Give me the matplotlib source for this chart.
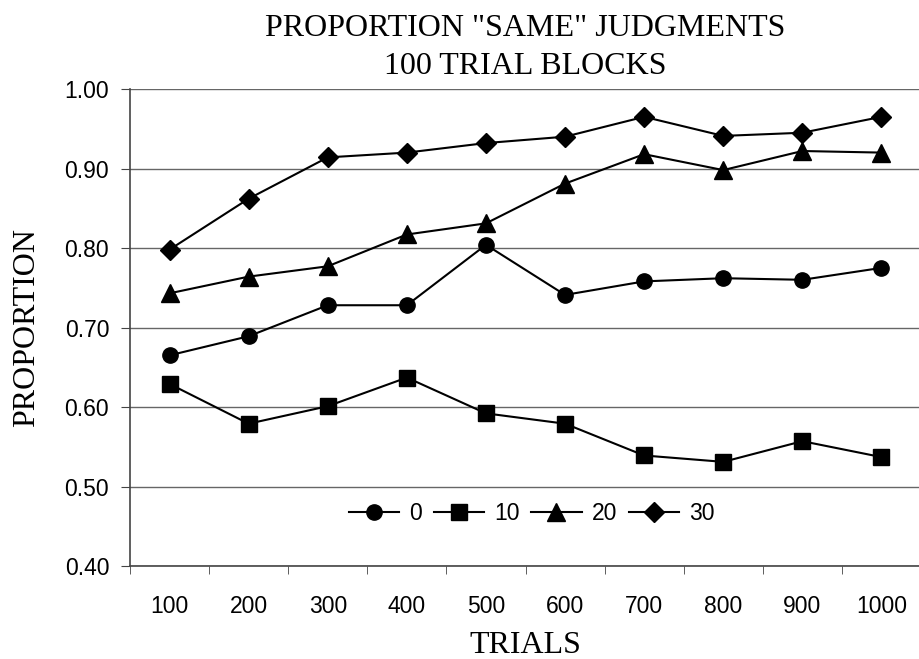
import numpy as np
import matplotlib.pyplot as plt
from matplotlib.ticker import FixedLocator, NullFormatter

# chart data
trials = ['100', '200', '300', '400', '500', '600', '700', '800', '900', '1000']
delay_0 = [0.665, 0.689, 0.728, 0.728, 0.804, 0.741, 0.758, 0.762, 0.760, 0.775]
delay_10 = [0.629, 0.579, 0.601, 0.637, 0.592, 0.579, 0.539, 0.531, 0.557, 0.537]
delay_20 = [0.743, 0.764, 0.777, 0.817, 0.831, 0.881, 0.918, 0.898, 0.922, 0.920]
delay_30 = [0.798, 0.862, 0.914, 0.920, 0.932, 0.940, 0.965, 0.941, 0.945, 0.965]
y_ticks = [0.40, 0.50, 0.60, 0.70, 0.80, 0.90, 1.00]

fig = plt.figure(figsize=(9.19, 6.59), dpi=100)
ax = fig.add_axes([130 / 919, 93 / 659, 791 / 919, 477 / 659])

x = np.arange(len(trials))
ax.plot(x, delay_0, 'k-', marker='o', markersize=11, linewidth=1.5, label='0')
ax.plot(x, delay_10, 'k-', marker='s', markersize=11, linewidth=1.5, label='10')
ax.plot(x, delay_20, 'k-', marker='^', markersize=12.5, linewidth=1.5, label='20')
ax.plot(x, delay_30, 'k-', marker='D', markersize=10, linewidth=1.5, label='30')

ax.set_xlim(-0.5, len(trials) - 0.5)
ax.set_ylim(0.40, 1.00)
ax.set_yticks(y_ticks)
ax.set_yticklabels([f'{v:.2f}' for v in y_ticks])
ax.yaxis.grid(True, color='#666666', linewidth=1)
ax.set_axisbelow(True)

# category labels at centres, tick marks at boundaries
ax.set_xticks(x)
ax.set_xticklabels(trials)
ax.tick_params(axis='x', which='major', length=0, pad=21)
ax.xaxis.set_minor_locator(FixedLocator(np.arange(-0.5, len(trials), 1.0)))
ax.xaxis.set_minor_formatter(NullFormatter())
ax.tick_params(axis='x', which='minor', length=6, direction='out', color='#444444')
ax.tick_params(axis='y', length=6.5, direction='out', color='#444444', pad=8.5)

for lab in ax.get_xticklabels() + ax.get_yticklabels():
    lab.set_fontfamily('Liberation Sans')
    lab.set_fontsize(16.5)

for side in ['top', 'right']:
    ax.spines[side].set_visible(False)
for side in ['left', 'bottom']:
    ax.spines[side].set_color('#444444')
    ax.spines[side].set_linewidth(1.2)

ax.set_title('PROPORTION "SAME" JUDGMENTS\n100 TRIAL BLOCKS',
             fontfamily='Liberation Serif', fontsize=23, linespacing=1.4, pad=11)
ax.set_ylabel('PROPORTION', fontfamily='Liberation Serif', fontsize=23, labelpad=17)
ax.set_xlabel('TRIALS', fontfamily='Liberation Serif', fontsize=23, labelpad=9)

ax.legend(loc='center', bbox_to_anchor=(0.508, 0.111), ncol=4, frameon=False,
          handlelength=2.2, handletextpad=0.45, columnspacing=0.5,
          borderpad=0, prop={'family': 'Liberation Sans', 'size': 16.5})

fig.savefig('out.png', dpi=100)
